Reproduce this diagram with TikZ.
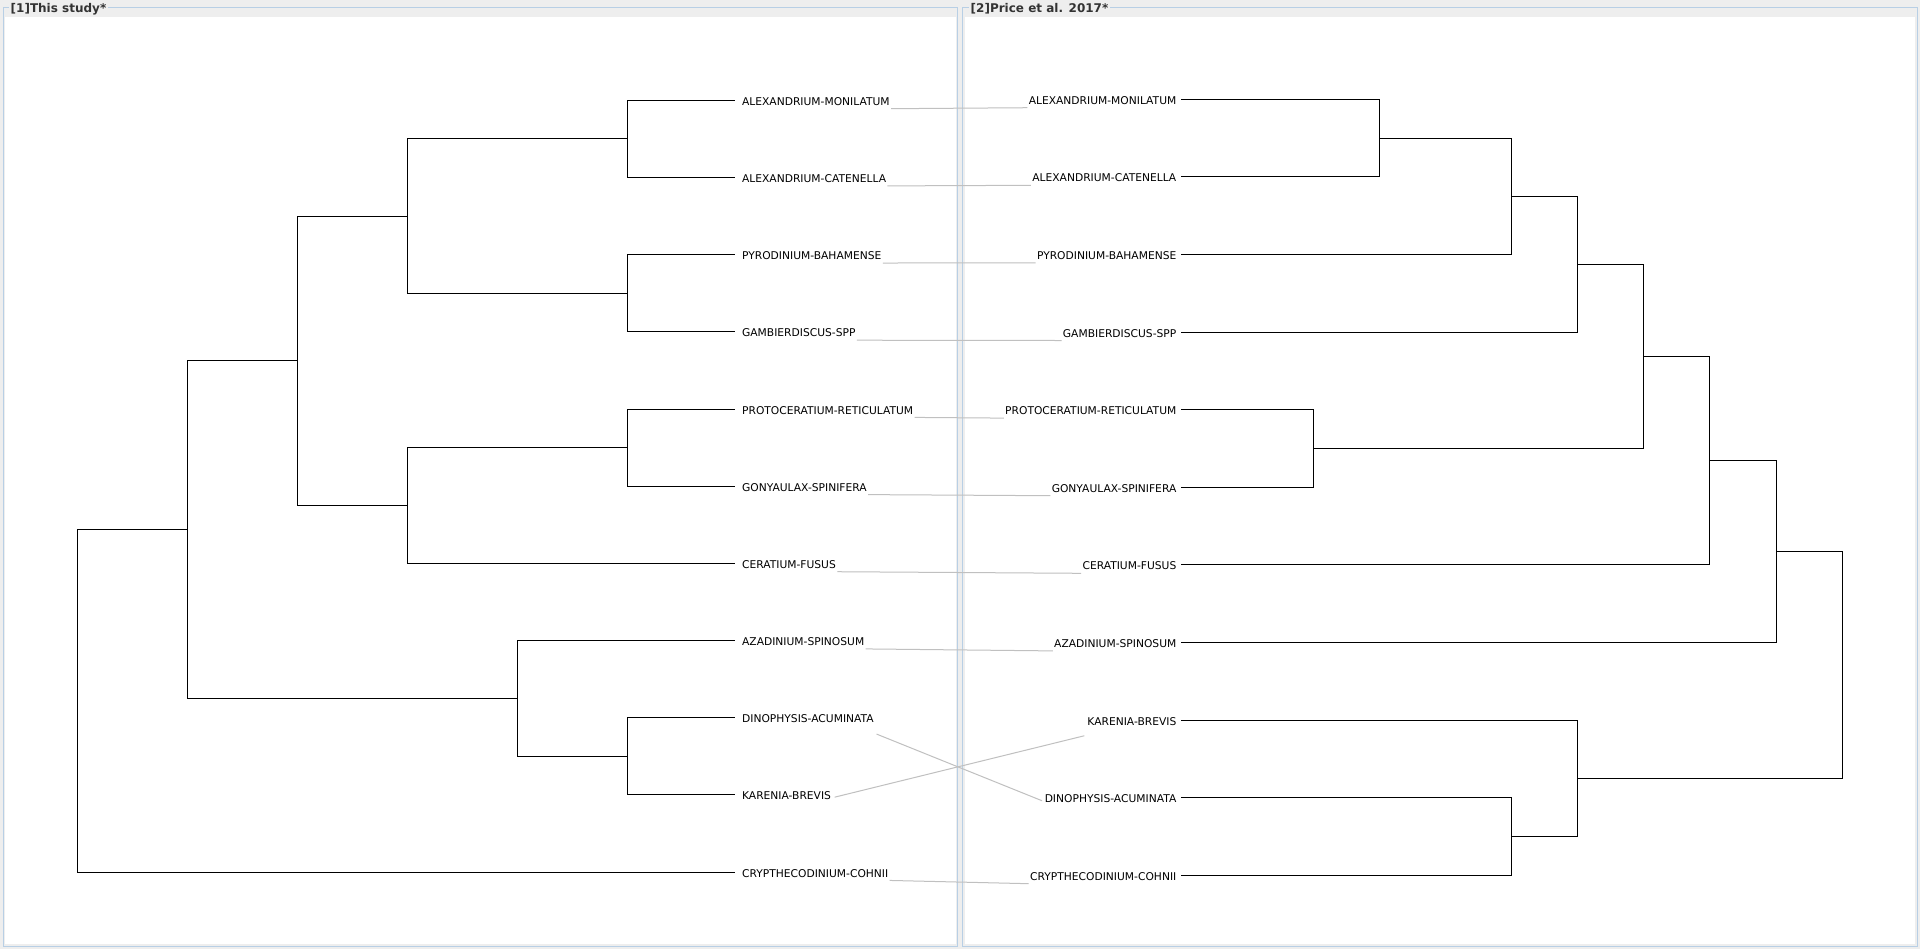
\documentclass[tikz,border=0pt]{standalone}
\usepackage{fontspec}
\setmainfont{DejaVu Sans}
\usetikzlibrary{positioning}
\definecolor{panelbg}{RGB}{238,238,238}
\definecolor{frameblue}{RGB}{184,207,229}
\definecolor{linkgrey}{RGB}{192,192,192}
\definecolor{titlegrey}{RGB}{51,51,51}
\tikzset{
  branch/.style={line width=0.5pt, black},
  link/.style={line width=0.5pt, linkgrey, shorten <=0.5pt, shorten >=0.5pt},
  frame/.style={line width=0.5pt, frameblue},
  taxon/.style={inner sep=0pt, text height=6.5pt, text depth=1.5pt, font=\fontsize{5.35}{6}\selectfont},
  paneltitle/.style={fill=panelbg, inner xsep=1pt, inner ysep=0.5pt, text=titlegrey, anchor=base west, font=\fontsize{6}{7}\selectfont\bfseries}
}
\begin{document}
\begin{tikzpicture}[x=0.5pt, y=-0.5pt]
    \useasboundingbox (0,0) rectangle (1920,949);
    \fill[panelbg] (0,0) rectangle (1920,949);
    \fill[white] (5,17) rectangle (956,944);
    \fill[white] (965,17) rectangle (1915,944);
    \draw[frame] (3.3,7.7) rectangle (957.7,946);
    \draw[frame] (962.7,7.7) rectangle (1917.3,946);
    \node[paneltitle] (title1) at (8.3,12) {[1]This study*};
    \node[paneltitle] (title2) at (968.3,12) {[2]Price et al. 2017*};

    \coordinate (eMON) at (735,100.3);
    \coordinate (eCAT) at (735,177.5);
    \coordinate (ePYRO) at (735,254.6);
    \coordinate (eGAMB) at (735,331.8);
    \coordinate (ePROTO) at (735,409.0);
    \coordinate (eGONY) at (735,486.2);
    \coordinate (eCERA) at (735,563.3);
    \coordinate (eAZA) at (735,640.5);
    \coordinate (eDINO) at (735,717.7);
    \coordinate (eKAR) at (735,794.8);
    \coordinate (eCRYP) at (735,872.0);

    \node[taxon, right=3.35pt of eMON] (lMON) {ALEXANDRIUM-MONILATUM};
    \node[taxon, right=3.35pt of eCAT] (lCAT) {ALEXANDRIUM-CATENELLA};
    \node[taxon, right=3.35pt of ePYRO] (lPYRO) {PYRODINIUM-BAHAMENSE};
    \node[taxon, right=3.35pt of eGAMB] (lGAMB) {GAMBIERDISCUS-SPP};
    \node[taxon, right=3.35pt of ePROTO] (lPROTO) {PROTOCERATIUM-RETICULATUM};
    \node[taxon, right=3.35pt of eGONY] (lGONY) {GONYAULAX-SPINIFERA};
    \node[taxon, right=3.35pt of eCERA] (lCERA) {CERATIUM-FUSUS};
    \node[taxon, right=3.35pt of eAZA] (lAZA) {AZADINIUM-SPINOSUM};
    \node[taxon, right=3.35pt of eDINO] (lDINO) {DINOPHYSIS-ACUMINATA};
    \node[taxon, right=3.35pt of eKAR] (lKAR) {KARENIA-BREVIS};
    \node[taxon, right=3.35pt of eCRYP] (lCRYP) {CRYPTHECODINIUM-COHNII};

    \coordinate (lalex) at (627.4,138.9);
    \coordinate (lpyga) at (627.4,293.2);
    \coordinate (lupper) at (407.4,216.05);
    \coordinate (lprgo) at (627.4,447.6);
    \coordinate (lprgoce) at (407.4,505.45);
    \coordinate (ltop) at (297.4,360.75);
    \coordinate (ldika) at (627.4,756.25);
    \coordinate (ladika) at (517.4,698.4);
    \coordinate (lcore) at (187.3,529.6);
    \coordinate (lroot) at (77.5,700.8);

    \draw[branch] (lalex) |- (eMON) (lalex) |- (eCAT);
    \draw[branch] (lpyga) |- (ePYRO) (lpyga) |- (eGAMB);
    \draw[branch] (lupper) |- (lalex) (lupper) |- (lpyga);
    \draw[branch] (lprgo) |- (ePROTO) (lprgo) |- (eGONY);
    \draw[branch] (lprgoce) |- (lprgo) (lprgoce) |- (eCERA);
    \draw[branch] (ltop) |- (lupper) (ltop) |- (lprgoce);
    \draw[branch] (ldika) |- (eDINO) (ldika) |- (eKAR);
    \draw[branch] (ladika) |- (eAZA) (ladika) |- (ldika);
    \draw[branch] (lcore) |- (ltop) (lcore) |- (ladika);
    \draw[branch] (lroot) |- (lcore) (lroot) |- (eCRYP);

    \coordinate (sMON) at (1181,99.3);
    \coordinate (sCAT) at (1181,176.9);
    \coordinate (sPYRO) at (1181,254.5);
    \coordinate (sGAMB) at (1181,332.1);
    \coordinate (sPROTO) at (1181,409.7);
    \coordinate (sGONY) at (1181,487.3);
    \coordinate (sCERA) at (1181,564.9);
    \coordinate (sAZA) at (1181,642.5);
    \coordinate (sKAR) at (1181,720.1);
    \coordinate (sDINO) at (1181,797.7);
    \coordinate (sCRYP) at (1181,875.3);

    \node[taxon, left=2.15pt of sMON] (rMON) {ALEXANDRIUM-MONILATUM};
    \node[taxon, left=2.15pt of sCAT] (rCAT) {ALEXANDRIUM-CATENELLA};
    \node[taxon, left=2.15pt of sPYRO] (rPYRO) {PYRODINIUM-BAHAMENSE};
    \node[taxon, left=2.15pt of sGAMB] (rGAMB) {GAMBIERDISCUS-SPP};
    \node[taxon, left=2.15pt of sPROTO] (rPROTO) {PROTOCERATIUM-RETICULATUM};
    \node[taxon, left=2.15pt of sGONY] (rGONY) {GONYAULAX-SPINIFERA};
    \node[taxon, left=2.15pt of sCERA] (rCERA) {CERATIUM-FUSUS};
    \node[taxon, left=2.15pt of sAZA] (rAZA) {AZADINIUM-SPINOSUM};
    \node[taxon, left=2.15pt of sKAR] (rKAR) {KARENIA-BREVIS};
    \node[taxon, left=2.15pt of sDINO] (rDINO) {DINOPHYSIS-ACUMINATA};
    \node[taxon, left=2.15pt of sCRYP] (rCRYP) {CRYPTHECODINIUM-COHNII};

    \coordinate (ralex) at (1379.2,138.1);
    \coordinate (ralexpy) at (1511.6,196.3);
    \coordinate (ralexpyga) at (1577.5,264.2);
    \coordinate (rprgo) at (1313.8,448.5);
    \coordinate (rupper) at (1643.7,356.35);
    \coordinate (rupperce) at (1709.5,460.6);
    \coordinate (rupperaz) at (1776.5,551.55);
    \coordinate (rdicr) at (1511.6,836.5);
    \coordinate (rkadicr) at (1577.5,778.3);
    \coordinate (rroot) at (1842.7,664.9);

    \draw[branch] (ralex) |- (sMON) (ralex) |- (sCAT);
    \draw[branch] (ralexpy) |- (ralex) (ralexpy) |- (sPYRO);
    \draw[branch] (ralexpyga) |- (ralexpy) (ralexpyga) |- (sGAMB);
    \draw[branch] (rprgo) |- (sPROTO) (rprgo) |- (sGONY);
    \draw[branch] (rupper) |- (ralexpyga) (rupper) |- (rprgo);
    \draw[branch] (rupperce) |- (rupper) (rupperce) |- (sCERA);
    \draw[branch] (rupperaz) |- (rupperce) (rupperaz) |- (sAZA);
    \draw[branch] (rdicr) |- (sDINO) (rdicr) |- (sCRYP);
    \draw[branch] (rkadicr) |- (sKAR) (rkadicr) |- (rdicr);
    \draw[branch] (rroot) |- (rupperaz) (rroot) |- (rkadicr);

    \draw[link] (lMON.south east) -- (rMON.south west);
    \draw[link] (lCAT.south east) -- (rCAT.south west);
    \draw[link] (lPYRO.south east) -- (rPYRO.south west);
    \draw[link] (lGAMB.south east) -- (rGAMB.south west);
    \draw[link] (lPROTO.south east) -- (rPROTO.south west);
    \draw[link] (lGONY.south east) -- (rGONY.south west);
    \draw[link] (lCERA.south east) -- (rCERA.south west);
    \draw[link] (lAZA.south east) -- (rAZA.south west);
    \draw[link] ([shift={(1.6,7.6)}]lDINO.south east) -- ([shift={(-1.4,-5)}]rDINO.south west);
    \draw[link] ([shift={(2.3,-5.8)}]lKAR.south east) -- ([shift={(-1.7,7)}]rKAR.south west);
    \draw[link] (lCRYP.south east) -- (rCRYP.south west);
\end{tikzpicture}
\end{document}
